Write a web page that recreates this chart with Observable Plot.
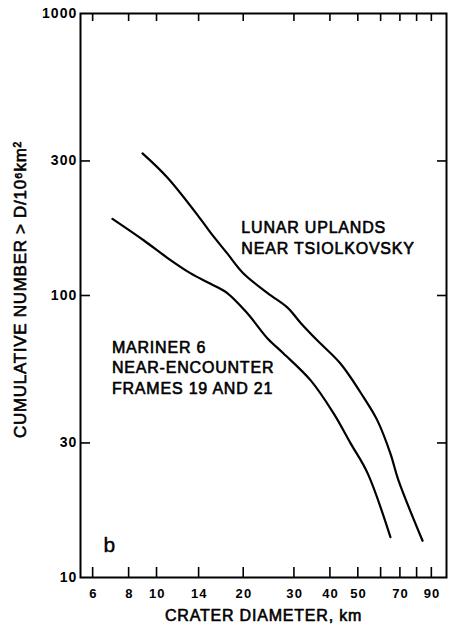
<!DOCTYPE html>
<html>
<head>
<meta charset="utf-8">
<script src="https://cdn.jsdelivr.net/npm/d3@7"></script>
<script src="https://cdn.jsdelivr.net/npm/@observablehq/plot@0.6"></script>
<style>
  html, body { margin: 0; padding: 0; background: #fff; }
</style>
</head>
<body>
<div id="chart"></div>
<script>
// Crater diameter (km) and cumulative number > D per 10^6 km^2
const lunarD   = [8.94, 10.9, 14.2, 15.4, 17.6, 20.0, 24.3, 28.5, 31.6, 36.2, 43.5, 52.4, 58.5, 64.9, 69.2, 83.9];
const lunarN   = [319, 262, 187, 167, 141, 120, 102, 90.6, 80.1, 69.2, 57.4, 43.5, 36.0, 27.5, 22.1, 13.5];
const marinerD = [7.03, 9.02, 10.9, 13.1, 15.4, 17.6, 20.7, 24.3, 27.6, 34.3, 41.2, 47.2, 54.1, 64.9];
const marinerN = [187, 157, 136, 120, 110, 102, 86.3, 70.4, 62.3, 50.0, 38.2, 29.9, 23.4, 13.9];

const xTicks      = [6, 8, 10, 14, 20, 30, 40, 50, 60, 70, 80, 90];
const xTickLabels = [6, 8, 10, 14, 20, 30, 40, 50, 70, 90];
const yTicks      = [10, 30, 100, 300, 1000];
const yInnerTicks = [30, 100, 300];

const lunarLabel   = "LUNAR UPLANDS\nNEAR TSIOLKOVSKY";
const marinerLabel = "MARINER 6\nNEAR-ENCOUNTER\nFRAMES 19 AND 21";
const panelLabel   = "b";
const xTitle = "CRATER DIAMETER, km";
const yTitle = "CUMULATIVE NUMBER > D/10⁶km²";

const lunar   = lunarD.map((d, i) => ({d, n: lunarN[i]}));
const mariner = marinerD.map((d, i) => ({d, n: marinerN[i]}));

const notes = [
  {d: 19.7, n: 187, text: lunarLabel},
  {d: 7.0,  n: 70.4, text: marinerLabel}
];

const W = 451, H = 624;
const mL = 80, mR = 5, mT = 13, mB = 47;
const fw = W - mL - mR, fh = H - mT - mB;

const chart = Plot.plot({
  width: W,
  height: H,
  marginLeft: mL,
  marginRight: mR,
  marginTop: mT,
  marginBottom: mB,
  style: {fontFamily: "'Liberation Sans', Arial, sans-serif", background: "#fff", color: "#000"},
  x: {type: "log", domain: [5.445, 101.6], label: null, axis: null},
  y: {type: "log", domain: [10, 1000], label: null, axis: null},
  marks: [
    // inward ticks
    Plot.ruleX(xTicks, {x: d => d, insetTop: fh - 10, stroke: "#000", strokeWidth: 1.6}),
    Plot.ruleX(xTicks, {x: d => d, insetBottom: fh - 8, stroke: "#000", strokeWidth: 1.6}),
    Plot.ruleY(yInnerTicks, {y: d => d, insetRight: fw - 10, stroke: "#000", strokeWidth: 1.6}),
    Plot.ruleY(yInnerTicks, {y: d => d, insetLeft: fw - 9, stroke: "#000", strokeWidth: 1.6}),
    Plot.frame({stroke: "#000", strokeWidth: 2}),
    // tick labels
    Plot.text(yTicks, {y: d => d, frameAnchor: "left", dx: -3, textAnchor: "end", text: d => String(d), fontSize: 14, fontWeight: "bold", fill: "#000"}),
    Plot.text(xTickLabels, {x: d => d, frameAnchor: "bottom", dx: 0.7, dy: 16, lineAnchor: "middle", text: d => String(d), fontSize: 13, fontWeight: "bold", fill: "#000"}),
    // curves
    Plot.line(lunar, {x: "d", y: "n", stroke: "#000", strokeWidth: 2.2, curve: "catmull-rom"}),
    Plot.line(mariner, {x: "d", y: "n", stroke: "#000", strokeWidth: 2.2, curve: "catmull-rom"}),
    // annotations
    Plot.text(notes, {x: "d", y: "n", text: "text", textAnchor: "start", lineAnchor: "top", lineHeight: 1.27, fontSize: 16, fill: "#000", stroke: "#000", strokeWidth: 0.6}),
    Plot.text([panelLabel], {x: 6.55, y: 12.3, text: d => d, textAnchor: "start", lineAnchor: "bottom", fontSize: 21, fill: "#000", stroke: "#000", strokeWidth: 0.4}),
    // axis titles
    Plot.text([xTitle], {frameAnchor: "bottom", dy: 38, lineAnchor: "middle", textAnchor: "middle", text: d => d, fontSize: 16, fill: "#000", stroke: "#000", strokeWidth: 0.6}),
    Plot.text([yTitle], {frameAnchor: "left", dx: -60, dy: -6, rotate: -90, textAnchor: "middle", lineAnchor: "middle", text: d => d, fontSize: 17, fill: "#000", stroke: "#000", strokeWidth: 0.6})
  ]
});

// letter spacing to mimic the wide lettering-guide text
d3.select(chart).selectAll("text").each(function() {
  const t = this.textContent;
  let ls = null;
  if (t === yTitle) ls = "0.7px";
  else if (t === xTitle) ls = "0.8px";
  else if (t.startsWith("LUNAR") || t.startsWith("MARINER")) ls = "0.8px";
  else if (/^\d+$/.test(t)) ls = "1.1px";
  if (ls) this.style.letterSpacing = ls;
});

document.getElementById("chart").appendChild(chart);
</script>
</body>
</html>
